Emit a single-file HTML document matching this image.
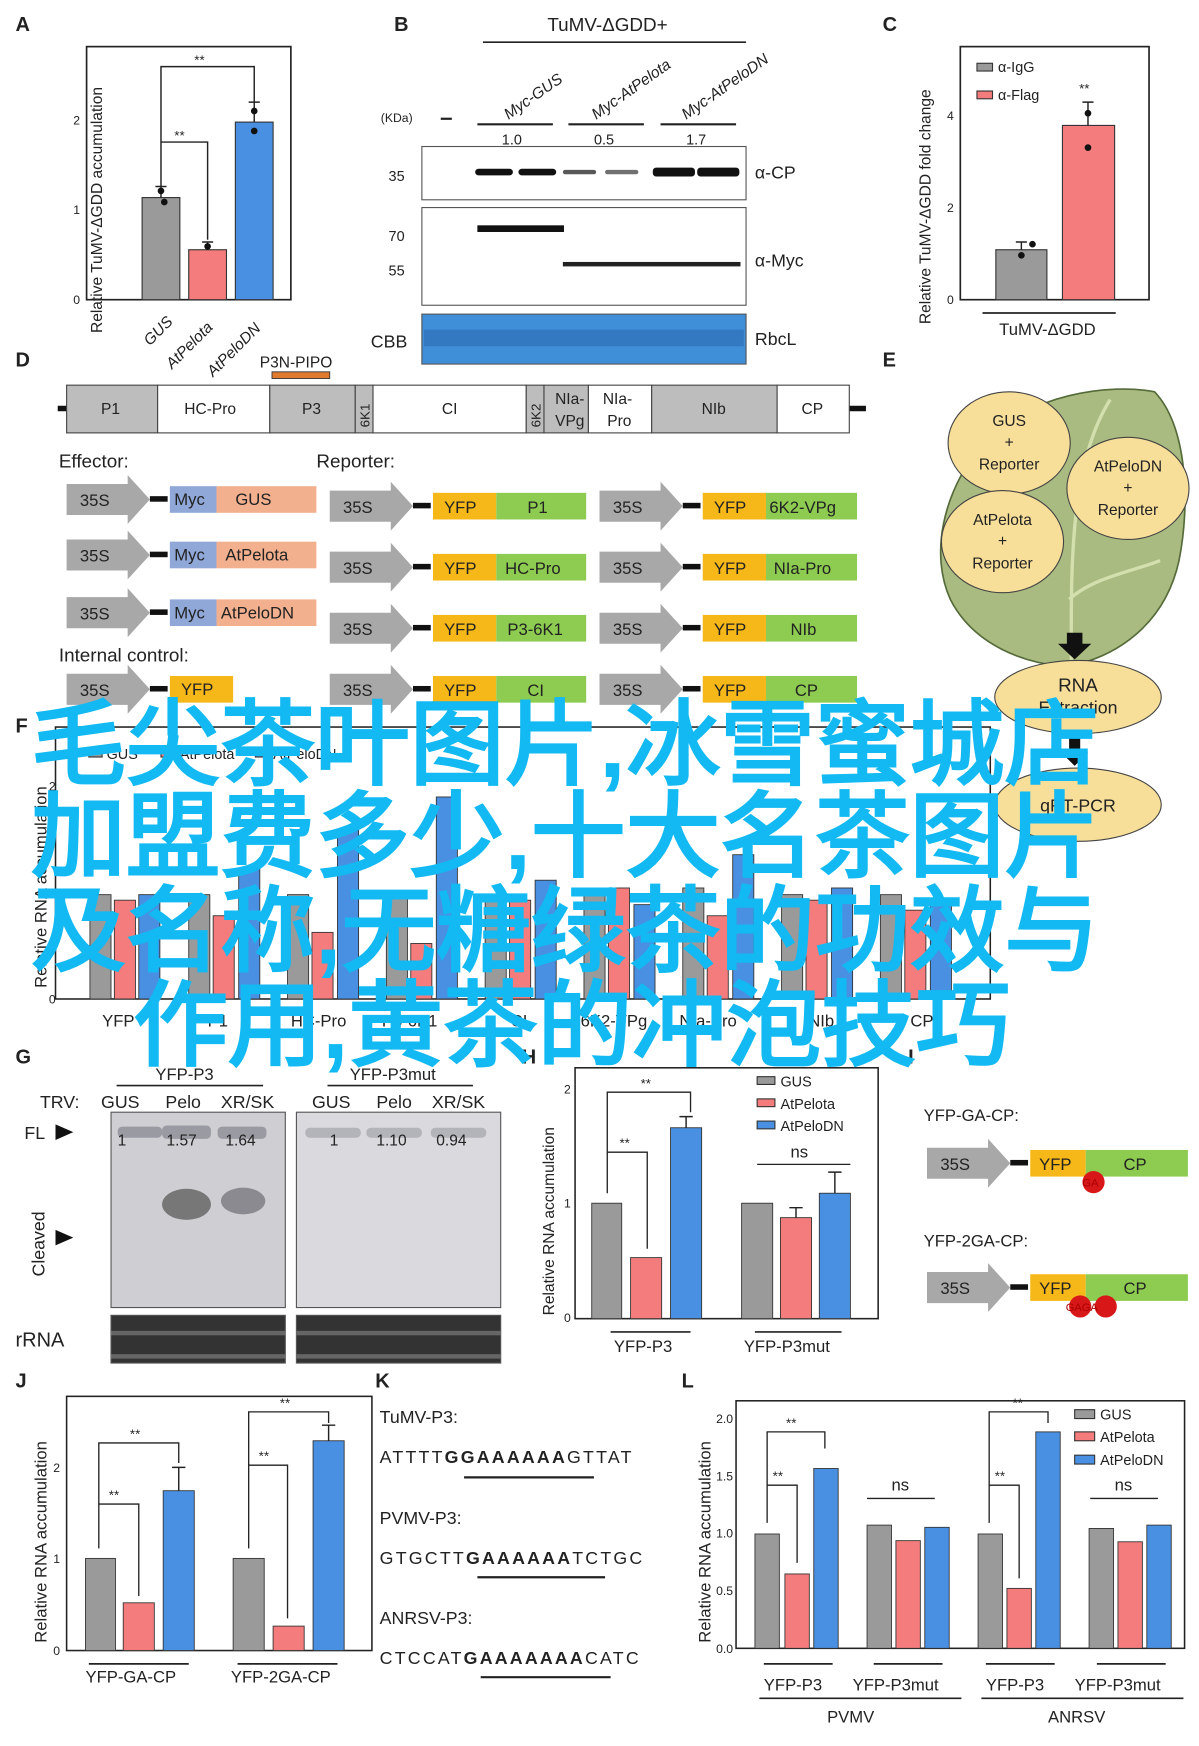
<!DOCTYPE html>
<html><head><meta charset="utf-8"><style>
html,body{margin:0;padding:0;background:#fff;}
svg{display:block;}
text{font-family:"Liberation Sans",sans-serif;}
</style></head><body>
<svg width="1199" height="1746" viewBox="0 0 1080 1573" preserveAspectRatio="none" xmlns="http://www.w3.org/2000/svg">
<defs>
<g id="ar"><polygon points="0,-14 55,-14 55,-22 75,0 55,22 55,14 0,14" fill="#a8a8a8"/></g>
</defs>
<g font-size="15" fill="#222">
<g font-weight="bold" font-size="18">
<text x="14" y="28">A</text><text x="355" y="28">B</text><text x="795" y="28">C</text>
<text x="14" y="330">D</text><text x="795" y="330">E</text><text x="14" y="660">F</text>
<text x="14" y="958">G</text><text x="470" y="958">H</text><text x="14" y="1250">J</text>
<text x="338" y="1250">K</text><text x="614" y="1250">L</text>
</g>

<!-- A -->
<rect x="78" y="42" width="184" height="228" fill="none" stroke="#222" stroke-width="1.5"/>
<rect x="128" y="178" width="34" height="92" fill="#9a9a9a" stroke="#333"/>
<rect x="170" y="225" width="34" height="45" fill="#f47c7c" stroke="#333"/>
<rect x="212" y="110" width="34" height="160" fill="#4a90e2" stroke="#333"/>
<g stroke="#222" stroke-width="1.3"><path d="M145 178V168M229 110V92M187 225V218M140 168H150M224 92H234M182 218H192" fill="none"/></g>
<g fill="#111"><circle cx="145" cy="172" r="3"/><circle cx="148" cy="182" r="3"/><circle cx="187" cy="222" r="3"/><circle cx="229" cy="100" r="3"/><circle cx="229" cy="118" r="3"/></g>
<path d="M145 168V60H229V92M145 128H187V216" fill="none" stroke="#222" stroke-width="1.3"/>
<text x="175" y="58" font-size="12">**</text><text x="157" y="126" font-size="12">**</text>
<text x="66" y="274" font-size="11">0</text><text x="66" y="193" font-size="11">1</text><text x="66" y="112" font-size="11">2</text>
<text transform="translate(92,300) rotate(-90)" font-size="14">Relative TuMV-ΔGDD accumulation</text>
<g font-size="14" font-style="italic"><text transform="translate(135,312) rotate(-45)">GUS</text><text transform="translate(155,333) rotate(-45)">AtPelota</text><text transform="translate(192,340) rotate(-45)">AtPeloDN</text></g>

<!-- B -->
<text x="493" y="28" font-size="17">TuMV-ΔGDD+</text>
<line x1="435" y1="38" x2="672" y2="38" stroke="#222" stroke-width="1.5"/>
<g font-size="14" font-style="italic"><text transform="translate(458,108) rotate(-35)">Myc-GUS</text><text transform="translate(537,108) rotate(-35)">Myc-AtPelota</text><text transform="translate(618,108) rotate(-35)">Myc-AtPeloDN</text></g>
<text x="343" y="110" font-size="11">(KDa)</text><line x1="397" y1="107" x2="407" y2="107" stroke="#222" stroke-width="2"/>
<g stroke="#222" stroke-width="2"><line x1="430" y1="112" x2="498" y2="112"/><line x1="512" y1="112" x2="580" y2="112"/><line x1="595" y1="112" x2="663" y2="112"/></g>
<text x="452" y="130" font-size="13">1.0</text><text x="535" y="130" font-size="13">0.5</text><text x="618" y="130" font-size="13">1.7</text>
<rect x="380" y="132" width="292" height="48" fill="#fff" stroke="#555"/>
<g fill="#111"><rect x="428" y="152" width="34" height="6" rx="3"/><rect x="467" y="152" width="34" height="6" rx="3"/><rect x="507" y="153" width="30" height="4" rx="2" opacity=".7"/><rect x="545" y="153" width="30" height="4" rx="2" opacity=".6"/><rect x="588" y="151" width="38" height="8" rx="3"/><rect x="628" y="151" width="38" height="8" rx="3"/></g>
<rect x="380" y="187" width="292" height="88" fill="#fff" stroke="#555"/>
<rect x="430" y="203" width="78" height="6" fill="#111"/>
<rect x="507" y="236" width="160" height="4" fill="#222"/>
<rect x="380" y="283" width="292" height="45" fill="#3f8fd8" stroke="#555"/>
<rect x="382" y="297" width="288" height="15" fill="#2d6fb8" opacity=".7"/>
<text x="350" y="163" font-size="13">35</text><text x="350" y="217" font-size="13">70</text><text x="350" y="248" font-size="13">55</text>
<text x="680" y="161" font-size="16">α-CP</text><text x="680" y="240" font-size="16">α-Myc</text>
<text x="334" y="313" font-size="16">CBB</text><text x="680" y="311" font-size="16">RbcL</text>

<!-- C -->
<rect x="865" y="42" width="170" height="228" fill="none" stroke="#222" stroke-width="1.5"/>
<rect x="897" y="225" width="46" height="45" fill="#9a9a9a" stroke="#333"/>
<rect x="957" y="113" width="47" height="157" fill="#f47c7c" stroke="#333"/>
<path d="M920 225V218M980 113V92M915 218H925M975 92H985" stroke="#222" stroke-width="1.3"/>
<g fill="#111"><circle cx="920" cy="230" r="3"/><circle cx="930" cy="220" r="3"/><circle cx="980" cy="102" r="3"/><circle cx="980" cy="133" r="3"/></g>
<rect x="880" y="57" width="14" height="7" fill="#9a9a9a" stroke="#333"/><text x="899" y="65" font-size="13">α-IgG</text>
<rect x="880" y="82" width="14" height="7" fill="#f47c7c" stroke="#333"/><text x="899" y="90" font-size="13">α-Flag</text>
<text x="972" y="84" font-size="12">**</text>
<text x="853" y="274" font-size="11">0</text><text x="853" y="191" font-size="11">2</text><text x="853" y="108" font-size="11">4</text>
<text transform="translate(838,292) rotate(-90)" font-size="14">Relative TuMV-ΔGDD fold change</text>
<line x1="885" y1="282" x2="1005" y2="282" stroke="#222" stroke-width="1.5"/>
<text x="900" y="302" font-size="15">TuMV-ΔGDD</text>

<!-- D genome -->
<line x1="52" y1="368" x2="780" y2="368" stroke="#111" stroke-width="5"/>
<g stroke="#444" stroke-width="1">
<rect x="60" y="347" width="82" height="43" fill="#bdbdbd"/><rect x="142" y="347" width="101" height="43" fill="#fff"/>
<rect x="243" y="347" width="77" height="43" fill="#bdbdbd"/><rect x="320" y="347" width="16" height="43" fill="#bdbdbd"/>
<rect x="336" y="347" width="138" height="43" fill="#fff"/><rect x="474" y="347" width="16" height="43" fill="#bdbdbd"/>
<rect x="490" y="347" width="40" height="43" fill="#bdbdbd"/><rect x="530" y="347" width="57" height="43" fill="#fff"/>
<rect x="587" y="347" width="113" height="43" fill="#bdbdbd"/><rect x="700" y="347" width="65" height="43" fill="#fff"/>
</g>
<rect x="245" y="335" width="52" height="6" fill="#e07a2e" stroke="#333" stroke-width=".8"/>
<text x="234" y="331" font-size="14">P3N-PIPO</text>
<g font-size="14"><text x="91" y="373">P1</text><text x="166" y="373">HC-Pro</text><text x="272" y="373">P3</text><text x="398" y="373">CI</text>
<text x="500" y="364">NIa-</text><text x="500" y="384">VPg</text><text x="543" y="364">NIa-</text><text x="547" y="384">Pro</text><text x="632" y="373">NIb</text><text x="722" y="373">CP</text>
<text transform="translate(333,385) rotate(-90)" font-size="12">6K1</text><text transform="translate(487,385) rotate(-90)" font-size="12">6K2</text></g>

<text x="53" y="421" font-size="17">Effector:</text><text x="285" y="421" font-size="17">Reporter:</text>
<text x="53" y="596" font-size="17">Internal control:</text>
<g font-size="15">
<use href="#ar" x="60" y="450"/><text x="72" y="456">35S</text><rect x="135" y="447" width="16" height="5" fill="#111"/><rect x="153" y="438" width="42" height="24" fill="#8fa8d8"/><rect x="195" y="438" width="90" height="24" fill="#f2b08e"/><text x="157" y="455">Myc</text><text x="212" y="455">GUS</text>
<use href="#ar" x="60" y="500"/><text x="72" y="506">35S</text><rect x="135" y="497" width="16" height="5" fill="#111"/><rect x="153" y="488" width="42" height="24" fill="#8fa8d8"/><rect x="195" y="488" width="90" height="24" fill="#f2b08e"/><text x="157" y="505">Myc</text><text x="203" y="505">AtPelota</text>
<use href="#ar" x="60" y="552"/><text x="72" y="558">35S</text><rect x="135" y="549" width="16" height="5" fill="#111"/><rect x="153" y="540" width="42" height="24" fill="#8fa8d8"/><rect x="195" y="540" width="90" height="24" fill="#f2b08e"/><text x="157" y="557">Myc</text><text x="199" y="557">AtPeloDN</text>
<use href="#ar" x="60" y="621"/><text x="72" y="627">35S</text><rect x="135" y="618" width="16" height="5" fill="#111"/><rect x="153" y="609" width="57" height="24" fill="#f5b818"/><text x="163" y="626">YFP</text>
</g>
<g font-size="15">
<use href="#ar" x="297" y="456"/><text x="309" y="462">35S</text><rect x="372" y="453" width="16" height="5" fill="#111"/><rect x="390" y="444" width="57" height="24" fill="#f5b818"/><rect x="447" y="444" width="81" height="24" fill="#8dcc50"/><text x="400" y="462">YFP</text><text x="475" y="462">P1</text>
<use href="#ar" x="297" y="511"/><text x="309" y="517">35S</text><rect x="372" y="508" width="16" height="5" fill="#111"/><rect x="390" y="499" width="57" height="24" fill="#f5b818"/><rect x="447" y="499" width="81" height="24" fill="#8dcc50"/><text x="400" y="517">YFP</text><text x="455" y="517">HC-Pro</text>
<use href="#ar" x="297" y="566"/><text x="309" y="572">35S</text><rect x="372" y="563" width="16" height="5" fill="#111"/><rect x="390" y="554" width="57" height="24" fill="#f5b818"/><rect x="447" y="554" width="81" height="24" fill="#8dcc50"/><text x="400" y="572">YFP</text><text x="457" y="572">P3-6K1</text>
<use href="#ar" x="297" y="621"/><text x="309" y="627">35S</text><rect x="372" y="618" width="16" height="5" fill="#111"/><rect x="390" y="609" width="57" height="24" fill="#f5b818"/><rect x="447" y="609" width="81" height="24" fill="#8dcc50"/><text x="400" y="627">YFP</text><text x="475" y="627">CI</text>
<use href="#ar" x="540" y="456"/><text x="552" y="462">35S</text><rect x="615" y="453" width="16" height="5" fill="#111"/><rect x="633" y="444" width="57" height="24" fill="#f5b818"/><rect x="690" y="444" width="82" height="24" fill="#8dcc50"/><text x="643" y="462">YFP</text><text x="693" y="462">6K2-VPg</text>
<use href="#ar" x="540" y="511"/><text x="552" y="517">35S</text><rect x="615" y="508" width="16" height="5" fill="#111"/><rect x="633" y="499" width="57" height="24" fill="#f5b818"/><rect x="690" y="499" width="82" height="24" fill="#8dcc50"/><text x="643" y="517">YFP</text><text x="697" y="517">NIa-Pro</text>
<use href="#ar" x="540" y="566"/><text x="552" y="572">35S</text><rect x="615" y="563" width="16" height="5" fill="#111"/><rect x="633" y="554" width="57" height="24" fill="#f5b818"/><rect x="690" y="554" width="82" height="24" fill="#8dcc50"/><text x="643" y="572">YFP</text><text x="712" y="572">NIb</text>
<use href="#ar" x="540" y="621"/><text x="552" y="627">35S</text><rect x="615" y="618" width="16" height="5" fill="#111"/><rect x="633" y="609" width="57" height="24" fill="#f5b818"/><rect x="690" y="609" width="82" height="24" fill="#8dcc50"/><text x="643" y="627">YFP</text><text x="716" y="627">CP</text>
</g>

<!-- E leaf -->
<path d="M1040 353 C1000 345 925 355 885 400 C848 445 838 500 856 540 C878 583 925 597 955 600 L960 612 L968 610 L972 598 C1010 588 1050 560 1062 505 C1072 455 1070 385 1040 353Z" fill="#a9bb80" stroke="#556b3a" stroke-width="1.5"/>
<path d="M965 600 C965 520 962 420 1000 360 M963 540 C985 520 1020 515 1045 505" fill="none" stroke="#d4dfae" stroke-width="3"/>
<g fill="#f7df9a" stroke="#444" stroke-width="1">
<ellipse cx="909" cy="399" rx="55" ry="46"/><ellipse cx="1016" cy="440" rx="55" ry="46"/><ellipse cx="903" cy="488" rx="55" ry="46"/>
<ellipse cx="971" cy="628" rx="75" ry="33"/><ellipse cx="971" cy="725" rx="75" ry="33"/></g>
<g font-size="14" text-anchor="middle"><text x="909" y="384">GUS</text><text x="909" y="403">+</text><text x="909" y="423">Reporter</text>
<text x="1016" y="425">AtPeloDN</text><text x="1016" y="444">+</text><text x="1016" y="464">Reporter</text>
<text x="903" y="473">AtPelota</text><text x="903" y="492">+</text><text x="903" y="512">Reporter</text>
<text x="971" y="623" font-size="17">RNA</text><text x="971" y="643" font-size="16">Extraction</text><text x="971" y="731" font-size="16">qRT-PCR</text></g>
<polygon points="961,570 975,570 975,580 983,580 968,594 953,580 961,580" fill="#111"/>
<polygon points="963,665 973,665 973,678 980,678 968,690 956,678 963,678" fill="#111"/>

<!-- F chart -->
<rect x="50" y="655" width="842" height="245" fill="none" stroke="#222" stroke-width="1.4"/>
<text transform="translate(42,890) rotate(-90)" font-size="15">Relative RNA accumulation</text>
<text x="44" y="904" font-size="11">0</text><text x="44" y="808" font-size="11">1</text><text x="44" y="712" font-size="11">2</text>
<rect x="80" y="675" width="12" height="7" fill="#9a9a9a" stroke="#333"/><text x="96" y="684" font-size="13">GUS</text>
<rect x="145" y="675" width="12" height="7" fill="#f47c7c" stroke="#333"/><text x="162" y="684" font-size="13">AtPelota</text>
<rect x="230" y="675" width="12" height="7" fill="#4a90e2" stroke="#333"/><text x="246" y="684" font-size="13">AtPeloDN</text>
<g stroke="#333" stroke-width=".8">
<rect x="81" y="806" width="19" height="94" fill="#9a9a9a"/><rect x="103" y="811" width="19" height="89" fill="#f47c7c"/><rect x="125" y="806" width="19" height="94" fill="#4a90e2"/>
<rect x="170" y="806" width="19" height="94" fill="#9a9a9a"/><rect x="192" y="825" width="19" height="75" fill="#f47c7c"/><rect x="215" y="782" width="19" height="118" fill="#4a90e2"/>
<rect x="259" y="806" width="19" height="94" fill="#9a9a9a"/><rect x="281" y="840" width="19" height="60" fill="#f47c7c"/><rect x="304" y="748" width="19" height="152" fill="#4a90e2"/>
<rect x="348" y="806" width="19" height="94" fill="#9a9a9a"/><rect x="370" y="850" width="19" height="50" fill="#f47c7c"/><rect x="393" y="718" width="19" height="182" fill="#4a90e2"/>
<rect x="437" y="806" width="19" height="94" fill="#9a9a9a"/><rect x="459" y="811" width="19" height="89" fill="#f47c7c"/><rect x="482" y="793" width="19" height="107" fill="#4a90e2"/>
<rect x="526" y="806" width="19" height="94" fill="#9a9a9a"/><rect x="548" y="800" width="19" height="100" fill="#f47c7c"/><rect x="571" y="815" width="19" height="85" fill="#4a90e2"/>
<rect x="615" y="800" width="19" height="100" fill="#9a9a9a"/><rect x="637" y="825" width="19" height="75" fill="#f47c7c"/><rect x="660" y="770" width="19" height="130" fill="#4a90e2"/>
<rect x="704" y="806" width="19" height="94" fill="#9a9a9a"/><rect x="726" y="811" width="19" height="89" fill="#f47c7c"/><rect x="749" y="800" width="19" height="100" fill="#4a90e2"/>
<rect x="793" y="806" width="19" height="94" fill="#9a9a9a"/><rect x="815" y="820" width="19" height="80" fill="#f47c7c"/><rect x="838" y="811" width="19" height="89" fill="#4a90e2"/>
</g>
<g font-size="15"><text x="92" y="925">YFP</text><text x="187" y="925">P1</text><text x="262" y="925">HC-Pro</text><text x="344" y="925">P3-6K1</text><text x="460" y="925">CI</text><text x="523" y="925">6K2-VPg</text><text x="612" y="925">NIa-Pro</text><text x="728" y="925">NIb</text><text x="820" y="925">CP</text></g>

<!-- G -->
<text x="140" y="973" font-size="15">YFP-P3</text><text x="315" y="973" font-size="15">YFP-P3mut</text>
<line x1="105" y1="978" x2="237" y2="978" stroke="#222" stroke-width="1.5"/><line x1="295" y1="978" x2="426" y2="978" stroke="#222" stroke-width="1.5"/>
<g font-size="16"><text x="36" y="998">TRV:</text><text x="91" y="998">GUS</text><text x="149" y="998">Pelo</text><text x="199" y="998">XR/SK</text><text x="281" y="998">GUS</text><text x="339" y="998">Pelo</text><text x="389" y="998">XR/SK</text></g>
<rect x="100" y="1002" width="157" height="176" fill="#cfcfd3" stroke="#555"/>
<rect x="267" y="1002" width="184" height="176" fill="#dadade" stroke="#555"/>
<g fill="#9a9aa2"><rect x="106" y="1015" width="40" height="10" rx="4"/><rect x="146" y="1014" width="44" height="12" rx="4"/><rect x="196" y="1015" width="44" height="11" rx="4"/>
<rect x="275" y="1016" width="50" height="9" rx="4" opacity=".6"/><rect x="330" y="1016" width="50" height="9" rx="4" opacity=".6"/><rect x="388" y="1016" width="50" height="9" rx="4" opacity=".6"/></g>
<ellipse cx="168" cy="1085" rx="22" ry="14" fill="#777"/><ellipse cx="219" cy="1082" rx="20" ry="12" fill="#8a8a90"/>
<g font-size="14"><text x="106" y="1032">1</text><text x="150" y="1032">1.57</text><text x="203" y="1032">1.64</text><text x="297" y="1032">1</text><text x="339" y="1032">1.10</text><text x="393" y="1032">0.94</text></g>
<text x="22" y="1026" font-size="16">FL</text><polygon points="50,1013 66,1020 50,1027" fill="#111"/>
<polygon points="50,1108 66,1115 50,1122" fill="#111"/>
<text transform="translate(40,1150) rotate(-90)" font-size="16">Cleaved</text>
<rect x="100" y="1185" width="157" height="43" fill="#333" stroke="#555"/><rect x="267" y="1185" width="184" height="43" fill="#333" stroke="#555"/>
<g fill="#888" opacity=".6"><rect x="100" y="1199" width="157" height="4"/><rect x="267" y="1199" width="184" height="4"/><rect x="100" y="1220" width="157" height="4"/><rect x="267" y="1220" width="184" height="4"/></g>
<text x="14" y="1213" font-size="18">rRNA</text>

<!-- H -->
<rect x="518" y="962" width="273" height="226" fill="none" stroke="#222" stroke-width="1.4"/>
<text transform="translate(499,1185) rotate(-90)" font-size="14">Relative RNA accumulation</text>
<text x="508" y="1191" font-size="11">0</text><text x="508" y="1088" font-size="11">1</text><text x="508" y="985" font-size="11">2</text>
<g stroke="#333" stroke-width=".8">
<rect x="533" y="1084" width="27" height="104" fill="#9a9a9a"/><rect x="568" y="1133" width="28" height="55" fill="#f47c7c"/><rect x="604" y="1016" width="28" height="172" fill="#4a90e2"/>
<rect x="668" y="1084" width="28" height="104" fill="#9a9a9a"/><rect x="703" y="1097" width="28" height="91" fill="#f47c7c"/><rect x="738" y="1075" width="28" height="113" fill="#4a90e2"/></g>
<path d="M547 1075V984H622V1002M547 1038H583V1125M682 1049H766" fill="none" stroke="#222" stroke-width="1.2"/>
<path d="M618 1016V1006M612 1006H624M752 1075V1056M746 1056H758M717 1097V1088M711 1088H723" stroke="#222" stroke-width="1.3"/>
<text x="577" y="980" font-size="12">**</text><text x="558" y="1034" font-size="12">**</text><text x="712" y="1043" font-size="15">ns</text>
<rect x="682" y="970" width="16" height="7" fill="#9a9a9a" stroke="#333"/><text x="703" y="979" font-size="13">GUS</text>
<rect x="682" y="990" width="16" height="7" fill="#f47c7c" stroke="#333"/><text x="703" y="999" font-size="13">AtPelota</text>
<rect x="682" y="1010" width="16" height="7" fill="#4a90e2" stroke="#333"/><text x="703" y="1019" font-size="13">AtPeloDN</text>
<line x1="550" y1="1200" x2="622" y2="1200" stroke="#222" stroke-width="1.5"/><line x1="680" y1="1200" x2="758" y2="1200" stroke="#222" stroke-width="1.5"/>
<text x="553" y="1218" font-size="15">YFP-P3</text><text x="670" y="1218" font-size="15">YFP-P3mut</text>

<!-- I -->
<text x="818" y="958" font-size="18" font-weight="bold">I</text>
<text x="832" y="1010" font-size="15">YFP-GA-CP:</text><text x="832" y="1123" font-size="15">YFP-2GA-CP:</text>
<g font-size="15">
<use href="#ar" x="835" y="1048"/><text x="847" y="1054">35S</text><rect x="910" y="1045" width="16" height="5" fill="#111"/><rect x="928" y="1036" width="50" height="24" fill="#f5b818"/><rect x="978" y="1036" width="92" height="24" fill="#8dcc50"/><text x="936" y="1054">YFP</text><text x="1012" y="1054">CP</text>
<circle cx="985" cy="1065" r="10" fill="#d81818"/><text x="975" y="1069" font-size="10" fill="#a00">GA</text>
<use href="#ar" x="835" y="1160"/><text x="847" y="1166">35S</text><rect x="910" y="1157" width="16" height="5" fill="#111"/><rect x="928" y="1148" width="50" height="24" fill="#f5b818"/><rect x="978" y="1148" width="92" height="24" fill="#8dcc50"/><text x="936" y="1166">YFP</text><text x="1012" y="1166">CP</text>
<circle cx="973" cy="1177" r="10" fill="#d81818"/><circle cx="996" cy="1177" r="10" fill="#d81818"/><text x="960" y="1181" font-size="10" fill="#a00">GAGA</text>
</g>

<!-- J -->
<rect x="60" y="1258" width="275" height="229" fill="none" stroke="#222" stroke-width="1.4"/>
<text transform="translate(42,1480) rotate(-90)" font-size="15">Relative RNA accumulation</text>
<text x="48" y="1491" font-size="11">0</text><text x="48" y="1408" font-size="11">1</text><text x="48" y="1326" font-size="11">2</text>
<g stroke="#333" stroke-width=".8">
<rect x="77" y="1404" width="27" height="83" fill="#9a9a9a"/><rect x="111" y="1444" width="28" height="43" fill="#f47c7c"/><rect x="147" y="1343" width="28" height="144" fill="#4a90e2"/>
<rect x="210" y="1404" width="28" height="83" fill="#9a9a9a"/><rect x="246" y="1465" width="28" height="22" fill="#f47c7c"/><rect x="282" y="1298" width="28" height="189" fill="#4a90e2"/></g>
<path d="M161 1343V1322M155 1322H167M296 1298V1284M290 1284H302" stroke="#222" stroke-width="1.3"/>
<path d="M89 1395V1300H161V1318M89 1355H125V1438M224 1395V1272H296V1282M224 1320H259V1458" fill="none" stroke="#222" stroke-width="1.2"/>
<text x="117" y="1296" font-size="12">**</text><text x="98" y="1351" font-size="12">**</text><text x="252" y="1268" font-size="12">**</text><text x="233" y="1316" font-size="12">**</text>
<line x1="80" y1="1499" x2="170" y2="1499" stroke="#222" stroke-width="1.5"/><line x1="214" y1="1499" x2="304" y2="1499" stroke="#222" stroke-width="1.5"/>
<text x="77" y="1516" font-size="15">YFP-GA-CP</text><text x="208" y="1516" font-size="15">YFP-2GA-CP</text>

<!-- K -->
<g font-size="16" letter-spacing="2"><text x="342" y="1282" letter-spacing="0">TuMV-P3:</text>
<text x="342" y="1318">ATTTT<tspan font-weight="bold">GGAAAAAA</tspan>GTTAT</text>
<text x="342" y="1373" letter-spacing="0">PVMV-P3:</text>
<text x="342" y="1409">GTGCTT<tspan font-weight="bold">GAAAAAA</tspan>TCTGC</text>
<text x="342" y="1463" letter-spacing="0">ANRSV-P3:</text>
<text x="342" y="1499">CTCCAT<tspan font-weight="bold">GAAAAAAA</tspan>CATC</text></g>
<g stroke="#222" stroke-width="2"><line x1="418" y1="1331" x2="535" y2="1331"/><line x1="430" y1="1421" x2="545" y2="1421"/><line x1="433" y1="1511" x2="550" y2="1511"/></g>

<!-- L -->
<rect x="663" y="1262" width="404" height="223" fill="none" stroke="#222" stroke-width="1.4"/>
<text transform="translate(640,1480) rotate(-90)" font-size="15">Relative RNA accumulation</text>
<g font-size="11"><text x="645" y="1489">0.0</text><text x="645" y="1437">0.5</text><text x="645" y="1385">1.0</text><text x="645" y="1334">1.5</text><text x="645" y="1282">2.0</text></g>
<g stroke="#333" stroke-width=".8">
<rect x="680" y="1382" width="22" height="103" fill="#9a9a9a"/><rect x="707" y="1418" width="22" height="67" fill="#f47c7c"/><rect x="733" y="1323" width="22" height="162" fill="#4a90e2"/>
<rect x="781" y="1374" width="22" height="111" fill="#9a9a9a"/><rect x="807" y="1388" width="22" height="97" fill="#f47c7c"/><rect x="833" y="1376" width="22" height="109" fill="#4a90e2"/>
<rect x="881" y="1382" width="22" height="103" fill="#9a9a9a"/><rect x="907" y="1431" width="22" height="54" fill="#f47c7c"/><rect x="933" y="1290" width="22" height="195" fill="#4a90e2"/>
<rect x="981" y="1377" width="22" height="108" fill="#9a9a9a"/><rect x="1007" y="1389" width="22" height="96" fill="#f47c7c"/><rect x="1033" y="1374" width="22" height="111" fill="#4a90e2"/></g>
<path d="M691 1372V1290H743V1305M691 1338H718V1408M891 1372V1272H944V1282M891 1338H918V1422M781 1350H842M982 1350H1043" fill="none" stroke="#222" stroke-width="1.2"/>
<text x="708" y="1286" font-size="12">**</text><text x="696" y="1334" font-size="12">**</text><text x="912" y="1268" font-size="12">**</text><text x="896" y="1334" font-size="12">**</text>
<text x="803" y="1343" font-size="15">ns</text><text x="1004" y="1343" font-size="15">ns</text>
<rect x="968" y="1270" width="18" height="8" fill="#9a9a9a" stroke="#333"/><text x="991" y="1279" font-size="13">GUS</text>
<rect x="968" y="1290" width="18" height="8" fill="#f47c7c" stroke="#333"/><text x="991" y="1299" font-size="13">AtPelota</text>
<rect x="968" y="1311" width="18" height="8" fill="#4a90e2" stroke="#333"/><text x="991" y="1320" font-size="13">AtPeloDN</text>
<g stroke="#222" stroke-width="1.5"><line x1="688" y1="1499" x2="750" y2="1499"/><line x1="787" y1="1499" x2="849" y2="1499"/><line x1="888" y1="1499" x2="950" y2="1499"/><line x1="988" y1="1499" x2="1050" y2="1499"/>
<line x1="684" y1="1530" x2="866" y2="1530"/><line x1="884" y1="1530" x2="1066" y2="1530"/></g>
<g font-size="15"><text x="688" y="1523">YFP-P3</text><text x="768" y="1523">YFP-P3mut</text><text x="888" y="1523">YFP-P3</text><text x="968" y="1523">YFP-P3mut</text>
<text x="745" y="1552">PVMV</text><text x="944" y="1552">ANRSV</text></g>
</g>

<g fill="#12b9f2" font-family="'Noto Sans CJK SC','WenQuanYi Zen Hei',sans-serif" font-size="84" font-weight="bold">
<text x="28" y="700" textLength="962" lengthAdjust="spacingAndGlyphs">毛尖茶叶图片,冰雪蜜城店</text>
<text x="28" y="783" textLength="962" lengthAdjust="spacingAndGlyphs">加盟费多少,十大名茶图片</text>
<text x="28" y="868" textLength="962" lengthAdjust="spacingAndGlyphs">及名称,无糖绿茶的功效与</text>
<text x="120" y="953" textLength="790" lengthAdjust="spacingAndGlyphs">作用,黄茶的冲泡技巧</text>
</g>
</svg>
</body></html>
